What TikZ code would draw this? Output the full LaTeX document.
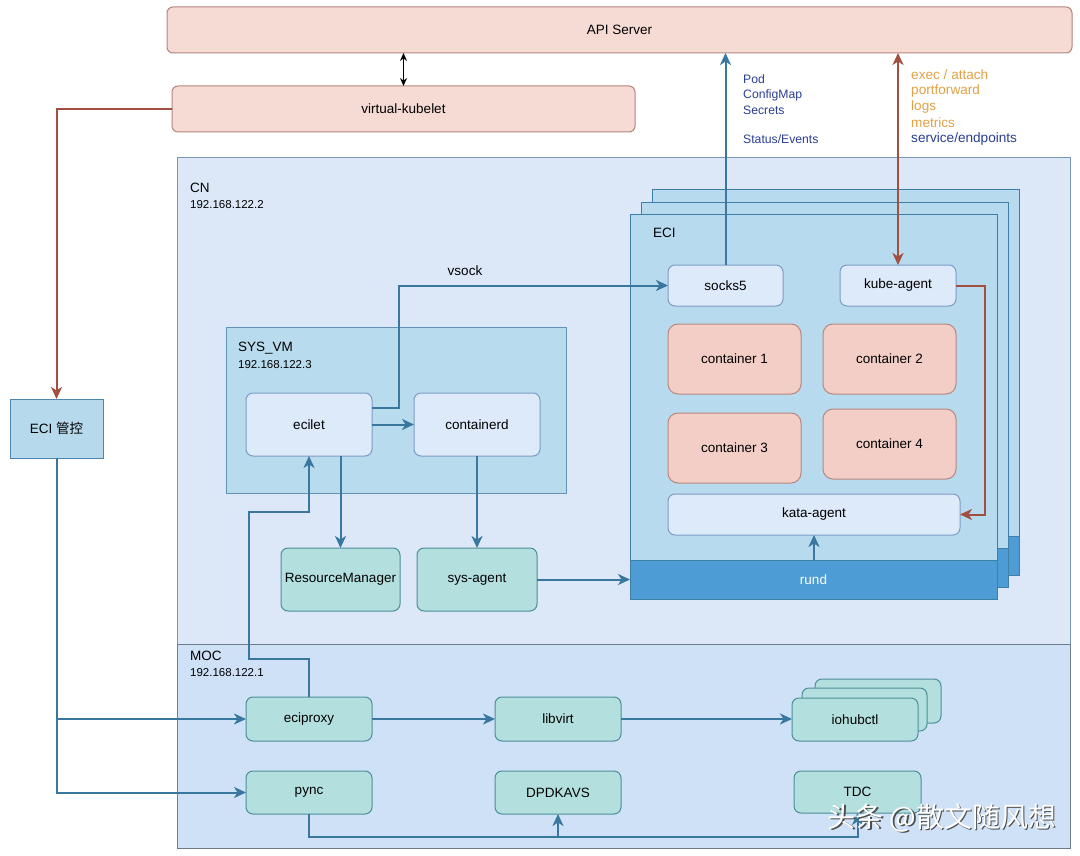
\documentclass[tikz,border=0pt]{standalone}
\usepackage{fontspec}
\setmainfont{Liberation Sans}
\newfontfamily\cjk{Noto Sans CJK SC}
\usetikzlibrary{arrows.meta}
\definecolor{pinkfill}{HTML}{F6DBD5}
\definecolor{pinkstroke}{HTML}{B3857E}
\definecolor{contfill}{HTML}{F3CEC6}
\definecolor{contstroke}{HTML}{B8877F}
\definecolor{cnfill}{HTML}{DCE8F8}
\definecolor{cnstroke}{HTML}{7A96BC}
\definecolor{mocfill}{HTML}{CFE1F6}
\definecolor{mocstroke}{HTML}{6E7B8A}
\definecolor{sysfill}{HTML}{B8DBEE}
\definecolor{sysstroke}{HTML}{5F93B8}
\definecolor{ecifill}{HTML}{B7DAEE}
\definecolor{ecistroke}{HTML}{3E7FA8}
\definecolor{lightfill}{HTML}{DDEAFA}
\definecolor{lightstroke}{HTML}{7D9CC4}
\definecolor{greenfill}{HTML}{B3E0DF}
\definecolor{greenstroke}{HTML}{4C8F98}
\definecolor{mgmtfill}{HTML}{B6DAEC}
\definecolor{mgmtstroke}{HTML}{4F86AD}
\definecolor{rundfill}{HTML}{4E9CD6}
\definecolor{arrowblue}{HTML}{39779F}
\definecolor{arrowred}{HTML}{A34F3F}
\definecolor{labelblue}{HTML}{2A3F96}
\definecolor{labelorange}{HTML}{E2A146}
\newcommand{\bx}[7]{\node[#2, minimum width={(#5-#3)*1pt}, minimum height={(#6-#4)*1pt}] (#1) at ({(#3+#5)/2},{(#4+#6)/2}) {#7};}
\begin{document}
\begin{tikzpicture}[x=1pt,y=-1pt, font=\fontsize{13.5}{15}\selectfont,
 box/.style={draw, inner sep=0pt, outer sep=0pt, align=center, line width=1pt},
 pinkbox/.style={box, fill=pinkfill, draw=pinkstroke, rounded corners=6pt},
 contbox/.style={box, fill=contfill, draw=contstroke, rounded corners=10pt},
 lightbox/.style={box, fill=lightfill, draw=lightstroke, rounded corners=7pt},
 greenbox/.style={box, fill=greenfill, draw=greenstroke, rounded corners=7pt},
 cnbox/.style={box, fill=cnfill, draw=cnstroke},
 mocbox/.style={box, fill=mocfill, draw=mocstroke},
 sysbox/.style={box, fill=sysfill, draw=sysstroke},
 ecibox/.style={box, fill=ecifill, draw=ecistroke},
 rundbox/.style={box, fill=rundfill, draw=ecistroke, text=white},
 mgmtbox/.style={box, fill=mgmtfill, draw=mgmtstroke},
 tip/.style={-{Stealth[length=12pt,width=11pt,inset=3.5pt]}},
 bconn/.style={draw=arrowblue, line width=2pt},
 rconn/.style={draw=arrowred, line width=2pt},
 title/.style={anchor=west, inner sep=0pt, font=\fontsize{13.5}{15}\selectfont},
 ip/.style={anchor=west, inner sep=0pt, font=\fontsize{11.5}{13}\selectfont},
 lbl/.style={anchor=west, inner sep=0pt, font=\fontsize{12.2}{14}\selectfont},
 rlbl/.style={anchor=west, inner sep=0pt, font=\fontsize{13.6}{15}\selectfont},
]
\useasboundingbox (0,0) rectangle (1080,856);
\fill[white] (0,0) rectangle (1080,856);

% regions
\bx{cn}{cnbox}{177}{158}{1070}{644}{}
\bx{moc}{mocbox}{177}{644}{1070}{848}{}
\node[title] (cnt) at (190,188) {CN};
\node[ip] (cnip) at (190,205) {192.168.122.2};
\node[title] (moct) at (190,656) {MOC};
\node[ip] (mocip) at (190,673) {192.168.122.1};

% top
\bx{api}{pinkbox}{167}{7}{1072}{53}{API Server}
\bx{vk}{pinkbox}{172}{86}{635}{132}{virtual-kubelet}
\bx{mgmt}{mgmtbox}{10}{399}{103}{458}{ECI {\cjk 管控}}

% ECI stack
\bx{eci3}{ecibox}{652}{190}{1019}{575}{}
\bx{rund3}{rundbox}{652}{536}{1019}{575}{}
\bx{eci2}{ecibox}{641}{203}{1008}{587}{}
\bx{rund2}{rundbox}{641}{548}{1008}{587}{}
\bx{eci}{ecibox}{630}{215}{997}{599}{}
\bx{rund}{rundbox}{630}{560}{997}{599}{rund}
\node[title] (ecit) at (653,233) {ECI};
\bx{socks}{lightbox}{668}{265}{783}{306}{socks5}
\bx{kube}{lightbox}{840}{265}{956}{306}{kube-agent}
\bx{c1}{contbox}{668}{324}{801}{394}{container 1}
\bx{c2}{contbox}{823}{324}{956}{394}{container 2}
\bx{c3}{contbox}{668}{413}{801}{483}{container 3}
\bx{c4}{contbox}{823}{409}{956}{479}{container 4}
\bx{kata}{lightbox}{668}{494}{960}{535}{kata-agent}

% SYS_VM
\bx{sys}{sysbox}{226}{327}{566}{493}{}
\node[title] (syst) at (238,348) {SYS\_VM};
\node[ip] (sysip) at (238,365) {192.168.122.3};
\bx{ecilet}{lightbox}{246}{393}{372}{456}{ecilet}
\bx{ctrd}{lightbox}{414}{393}{540}{456}{containerd}
\bx{rm}{greenbox}{281}{548}{400}{611}{ResourceManager}
\bx{sa}{greenbox}{417}{548}{537}{611}{sys-agent}

% MOC nodes
\bx{ecip}{greenbox}{246}{697}{372}{741}{eciproxy}
\bx{libvirt}{greenbox}{495}{697}{621}{741}{libvirt}
\bx{io3}{greenbox}{815}{679}{941}{723}{}
\bx{io2}{greenbox}{802}{688}{927}{731}{}
\bx{io}{greenbox}{792}{698}{918}{741}{iohubctl}
\bx{pync}{greenbox}{246}{771}{372}{814}{pync}
\bx{dpdk}{greenbox}{495}{771}{621}{814}{DPDKAVS}
\bx{tdc}{greenbox}{794}{771}{921}{813}{TDC}

% labels
\node[lbl, text=labelblue] (l1) at (743,79) {Pod};
\node[lbl, text=labelblue] (l2) at (743,95) {ConfigMap};
\node[lbl, text=labelblue] (l3) at (743,110) {Secrets};
\node[lbl, text=labelblue] (l4) at (743,139) {Status/Events};
\node[rlbl, text=labelorange] (o1) at (911,75) {exec / attach};
\node[rlbl, text=labelorange] (o2) at (911,91) {portforward};
\node[rlbl, text=labelorange] (o3) at (911,107) {logs};
\node[rlbl, text=labelorange] (o4) at (911,123) {metrics};
\node[rlbl, text=labelblue] (o5) at (911,139) {service/endpoints};
\node[inner sep=0pt, font=\fontsize{13.5}{15}\selectfont] (vsock) at (465,271) {vsock};

% connectors
\draw[line width=1.3pt, {Stealth[length=8pt,width=7pt]}-{Stealth[length=8pt,width=7pt]}] (vk.north) -- (api.south -| vk.north);
\draw[rconn, tip] (vk.west) -| (mgmt.north);
\draw[bconn, tip] (mgmt.south) |- (pync.west);
\draw[bconn, tip] (mgmt.south |- ecip.west) -- (ecip.west);
\draw[bconn, tip] (socks.north) -- (socks.north |- api.south);
\draw[rconn, {Stealth[length=12pt,width=11pt,inset=3.5pt]}-{Stealth[length=12pt,width=11pt,inset=3.5pt]}] (kube.north) -- (kube.north |- api.south);
\coordinate (kr) at (985,285);
\draw[rconn, tip] (kube.east) -- (kube.east -| kr) |- (kata.east);
\draw[bconn, tip] (rund.north -| kata.south) -- (kata.south);
\coordinate (vs) at (399,284);
\draw[bconn, tip] ([yshift=-15pt]ecilet.north east) -| (socks.west -| vs) -- (socks.west);
\draw[bconn, tip] (ecilet.east) -- (ctrd.west);
\draw[bconn, tip] (rm.north |- ecilet.south) -- (rm.north);
\draw[bconn, tip] (ctrd.south) -- (sa.north);
\draw[bconn, tip] (sa.east) -- (rund.west |- sa.east);
\coordinate (j1) at (249,659);
\coordinate (j2) at (249,512);
\draw[bconn, tip] (ecip.north) |- (j1) -- (j2) -| (ecilet.south -| ecip.north);
\draw[bconn, tip] (ecip.east) -- (libvirt.west);
\draw[bconn, tip] (libvirt.east) -- (io.west |- libvirt.east);
\coordinate (bot) at (300,837);
\draw[bconn, tip] (pync.south) |- (tdc.south |- bot) -- (tdc.south);
\draw[bconn, tip] (dpdk.south |- bot) -- (dpdk.south);

% watermark
\node[font=\cjk\fontsize{28}{30}\selectfont, text=black!70] (wms) at (943.5,819.5) {头条 @散文随风想};
\node[font=\cjk\fontsize{28}{30}\selectfont, text=white] (wm) at (942,818) {头条 @散文随风想};
\end{tikzpicture}
\end{document}
